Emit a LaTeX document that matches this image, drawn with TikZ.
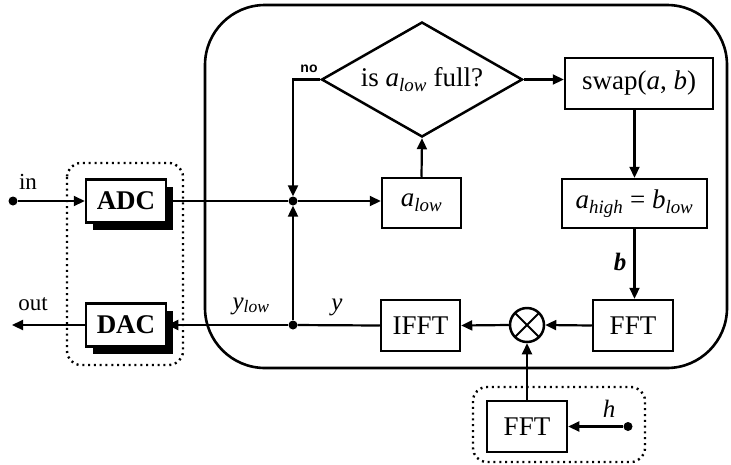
\documentclass[tikz,border=0pt]{standalone}
\usepackage{fontspec}
\setmainfont{Liberation Serif}
\setsansfont{Liberation Sans}
\usetikzlibrary{arrows.meta,shapes.geometric,shadows}
\tikzset{
 blk/.style={draw, line width=2.5pt, fill=white, inner sep=0pt, font=\fontsize{27}{30}\selectfont},
 arr/.style={line width=2.2pt, -{Triangle[length=11pt,width=10pt]}},
 ln/.style={line width=2.2pt},
 dotbox/.style={line width=2.4pt, dash pattern=on 2pt off 3.8pt, rounded corners=14pt},
 dotc/.style={circle, fill=black, inner sep=0pt, minimum size=9pt},
 shd/.style={drop shadow={shadow xshift=7pt, shadow yshift=-7pt, fill=black, opacity=1}},
 lbl/.style={inner sep=0pt, font=\fontsize{23}{26}\selectfont},
}
\newcommand{\sbs}[2]{\textit{#1}\textsubscript{\textit{#2}}}
\begin{document}
\begin{tikzpicture}[x=1pt,y=-1pt]
\useasboundingbox (0,0) rectangle (731,464);
% frames
\draw[line width=2.6pt, rounded corners=60pt] (205,5) rectangle (727,368);
\draw[dotbox] (67,163) rectangle (183,365);
\draw[dotbox] (473,387) rectangle (645,462);
% blocks
\node[blk, shd, font=\fontsize{27}{30}\selectfont\bfseries, minimum width=80pt, minimum height=43pt] (adc) at (126,201) {ADC};
\node[blk, shd, font=\fontsize{27}{30}\selectfont\bfseries, minimum width=80pt, minimum height=43pt] (dac) at (126,325) {DAC};
\node[blk, minimum width=79pt, minimum height=50pt] (alow) at (421.5,203) {\sbs{a}{low}};
\node[blk, draw, diamond, aspect=1.75, minimum width=201pt, minimum height=115pt] (dia) at (422,79.5) {is \sbs{a}{low} full?};
\node[blk, minimum width=148pt, minimum height=51pt] (swap) at (639,83.5) {swap(\textit{a}, \textit{b})};
\node[blk, minimum width=145pt, minimum height=49pt] (ahigh) at (634.5,203.5) {\sbs{a}{high} = \sbs{b}{low}};
\node[blk, minimum width=80pt, minimum height=51pt] (fft1) at (633,325.5) {FFT};
\node[blk, minimum width=79pt, minimum height=51pt] (ifft) at (420.5,325.5) {IFFT};
\node[blk, minimum width=80pt, minimum height=51pt] (fft2) at (527,426.5) {FFT};
\node[circle, draw, line width=2.5pt, minimum size=34pt, inner sep=0pt,
  path picture={\draw[line width=2pt] (path picture bounding box.north west) -- (path picture bounding box.south east)
  (path picture bounding box.north east) -- (path picture bounding box.south west);}] (mult) at (527,325) {};
% dots
\node[dotc] (in) at (13,201) {};
\node[dotc] (j1) at (293,201) {};
\node[dotc] (j2) at (293,325) {};
\node[dotc] (hd) at (628,426.5) {};
\coordinate (out) at (12,325);
% connectors
\draw[arr] (in) -- (adc.west);
\draw[ln] (adc.east) -- (j1);
\draw[arr] (j1) -- (j1 -| alow.west);
\draw[arr] (dia.west) -- (dia.west -| j1) -- (j1);
\draw[arr] (j2) -- (j1);
\draw[arr] (alow.north) -- (dia.south);
\draw[arr] (dia.east) -- (dia.east -| swap.west);
\draw[arr] (ahigh.north |- swap.south) -- (ahigh.north);
\draw[arr] (ahigh.south) -- (ahigh.south |- fft1.north);
\draw[arr] (fft1.west) -- (mult.east);
\draw[arr] (mult.west) -- (ifft.east);
\draw[ln] (ifft.west) -- (j2);
\draw[arr] (j2) -- (dac.east);
\draw[arr] (dac.west) -- (out);
\draw[arr] (fft2.north) -- (mult.south);
\draw[arr] (hd) -- (fft2.east);
% labels
\node[lbl] (lin) at (28,182) {in};
\node[lbl] (lout) at (33,304) {out};
\node[lbl, font=\fontsize{25}{28}\selectfont] (lylow) at (251,306) {\sbs{y}{low}};
\node[lbl, font=\fontsize{25}{28}\selectfont] (ly) at (337,307) {\textit{y}};
\node[lbl, font=\fontsize{25}{28}\selectfont\bfseries] (lb) at (620,262) {\textit{b}};
\node[lbl, font=\fontsize{25}{28}\selectfont] (lh) at (609,409) {\textit{h}};
\node[lbl, font=\sffamily\bfseries\fontsize{14}{16}\selectfont] (lno) at (309,69) {no};
\end{tikzpicture}
\end{document}
